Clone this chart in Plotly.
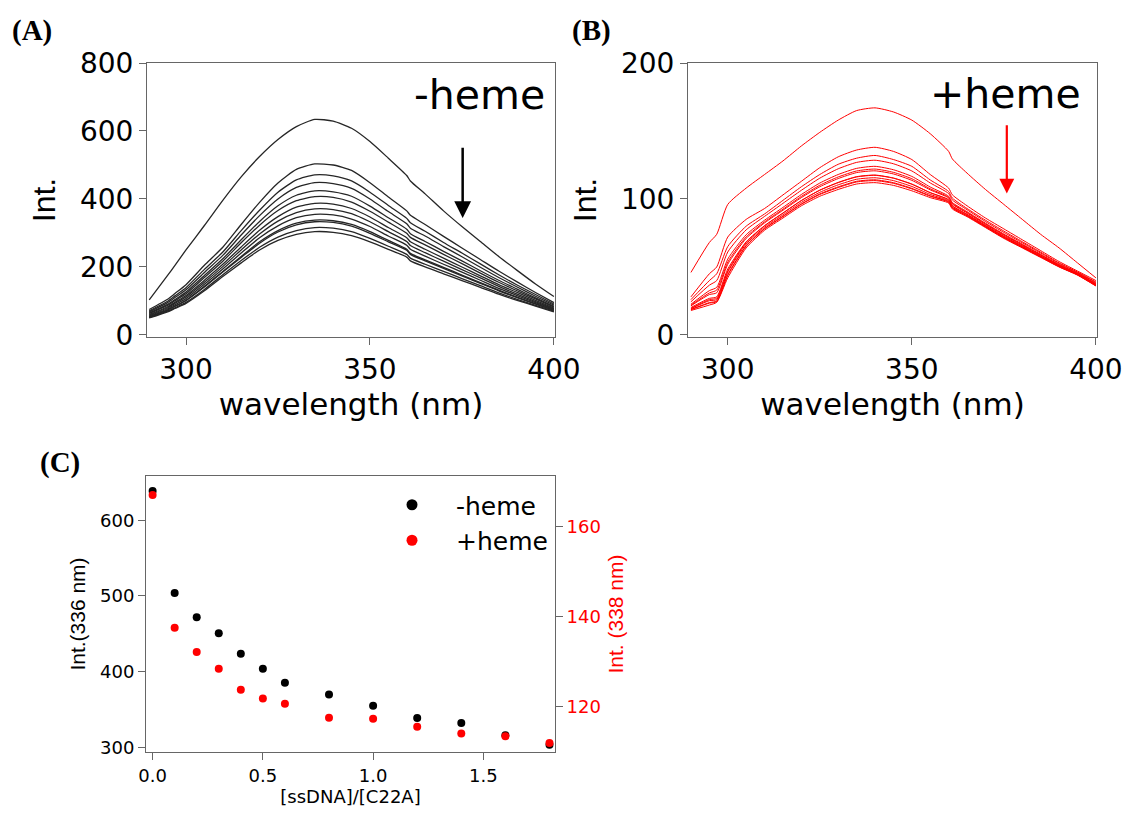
import plotly.graph_objects as go

# ---------------------------------------------------------------------------
# Data
# ---------------------------------------------------------------------------
wavelength = [290, 295, 297, 300, 305, 310, 315, 320, 325, 330, 335, 340, 345,
              350, 355, 360, 361, 365, 370, 375, 380, 385, 390, 395, 400]

# [ssDNA]/[C22A] titration points
ratio = [0.0, 0.1, 0.2, 0.3, 0.4, 0.5, 0.6, 0.8, 1.0, 1.2, 1.4, 1.6, 1.8]

# (A) emission spectra without heme, one list per titration point
no_heme_000 = [103, 175, 205, 250, 322, 396, 465, 525, 575, 613, 634, 629, 608, 569, 520, 469, 453, 415, 365, 319, 275, 231, 190, 150, 113]
no_heme_010 = [75, 105, 122, 148, 205, 258, 325, 390, 447, 487, 503, 500, 484, 448, 406, 365, 352, 325, 290, 256, 222, 188, 156, 125, 95]
no_heme_020 = [71, 99, 115, 139, 193, 244, 307, 367, 420, 456, 471, 468, 453, 420, 381, 343, 330, 305, 272, 241, 209, 177, 147, 119, 91]
no_heme_030 = [68, 95, 110, 133, 184, 234, 294, 351, 400, 434, 448, 445, 431, 400, 363, 327, 314, 291, 260, 230, 199, 169, 141, 114, 88]
no_heme_040 = [65, 90, 104, 126, 175, 224, 280, 334, 380, 411, 424, 421, 408, 379, 345, 311, 298, 275, 246, 218, 189, 161, 135, 109, 84]
no_heme_050 = [63, 87, 101, 121, 169, 217, 271, 323, 366, 395, 407, 405, 391, 364, 332, 299, 287, 265, 237, 210, 182, 155, 130, 106, 82]
no_heme_060 = [60, 83, 96, 116, 161, 208, 259, 308, 348, 376, 387, 385, 372, 347, 316, 286, 274, 252, 226, 200, 174, 148, 125, 102, 79]
no_heme_080 = [58, 80, 93, 112, 155, 201, 250, 297, 335, 360, 371, 369, 357, 333, 304, 275, 263, 242, 217, 192, 168, 143, 120, 98, 77]
no_heme_100 = [56, 77, 89, 107, 149, 194, 241, 286, 321, 345, 355, 353, 341, 319, 291, 264, 252, 232, 208, 185, 161, 137, 116, 95, 75]
no_heme_120 = [54, 74, 85, 102, 143, 187, 231, 274, 307, 329, 338, 336, 325, 304, 278, 252, 240, 221, 199, 176, 154, 132, 111, 92, 73]
no_heme_140 = [53, 73, 84, 101, 141, 185, 228, 270, 303, 324, 333, 331, 320, 299, 274, 249, 237, 218, 196, 174, 152, 130, 110, 91, 72]
no_heme_160 = [51, 70, 80, 96, 134, 177, 219, 258, 288, 307, 316, 314, 304, 284, 261, 237, 226, 208, 187, 166, 145, 124, 105, 87, 70]
no_heme_180 = [50, 68, 78, 93, 130, 172, 212, 250, 278, 296, 304, 302, 292, 274, 252, 229, 218, 200, 180, 160, 140, 120, 102, 85, 68]

# (B) emission spectra with heme, one list per titration point
heme_000 = [46, 68, 74, 96, 108, 118, 128, 139, 149, 158, 165, 167, 164, 158, 148, 135, 129.5, 119, 107, 96, 85, 74, 64, 53, 42]
heme_010 = [28, 45, 50, 72, 85, 93, 103, 113, 123, 131, 136, 138, 135, 129, 118, 108, 103.1, 95, 86, 78, 70, 62, 54, 47, 40]
heme_020 = [26, 40, 45, 65, 80, 89, 99, 109, 118, 125.5, 130, 132, 129, 124, 114, 105.5, 100.7, 93, 84.4, 76.4, 68.6, 60.9, 53, 46.3, 39]
heme_030 = [24.4, 36.6, 40, 61, 77.3, 87.2, 96.8, 106.4, 115.3, 122.2, 126.9, 128.5, 125.9, 120.6, 111.8, 104, 99.3, 92.1, 83.4, 75.4, 67.8, 60.2, 52.5, 45.9, 38.5]
heme_040 = [22.6, 32.6, 35, 55.8, 73.7, 84.4, 93.8, 103.3, 111.7, 118, 122.5, 124, 121.5, 116.6, 108.8, 102, 97.4, 90.7, 82.2, 74.2, 66.8, 59.3, 51.8, 45.4, 37.8]
heme_050 = [21.9, 30.9, 33, 53.6, 72.1, 83.2, 92.5, 101.9, 110.1, 116.2, 120.6, 122, 119.6, 114.9, 107.5, 101.2, 96.7, 90.1, 81.7, 73.7, 66.3, 58.9, 51.5, 45.2, 37.5]
heme_060 = [21.4, 29.7, 31, 52, 71, 82.4, 91.7, 101, 109, 115, 119.4, 120.7, 118.4, 113.7, 106.7, 100.7, 96.2, 89.7, 81.3, 73.3, 66, 58.7, 51.3, 45, 37.3]
heme_080 = [20.2, 26.9, 28, 48.5, 68.5, 80.4, 89.7, 98.9, 106.5, 112.2, 116.4, 117.6, 115.4, 111, 104.7, 99.4, 95, 88.7, 80.5, 72.5, 65.3, 58.1, 50.9, 44.6, 36.9]
heme_100 = [19.5, 26, 27, 47, 68, 80.2, 89.6, 98.8, 106.4, 112, 116.2, 117.4, 115.3, 110.8, 104.6, 99.3, 94.9, 88.7, 80.5, 72.5, 65.3, 58, 50.8, 44.6, 36.8]
heme_120 = [19.4, 25.2, 26, 46.2, 66.9, 79.2, 88.4, 97.5, 104.9, 110.4, 114.5, 115.6, 113.5, 109.2, 103.4, 98.5, 94.1, 88.1, 80, 72, 64.8, 57.7, 50.6, 44.4, 36.6]
heme_140 = [18.8, 23.8, 25, 44.4, 65.7, 78.3, 87.4, 96.4, 103.7, 108.9, 113, 114.1, 112, 107.8, 102.4, 97.9, 93.5, 87.6, 79.6, 71.6, 64.5, 57.4, 50.3, 44.2, 36.3]
heme_160 = [18.6, 23.4, 24.5, 43.8, 65.3, 78, 87, 96.1, 103.3, 108.4, 112.5, 113.5, 111.5, 107.4, 102, 97.7, 93.4, 87.5, 79.4, 71.4, 64.4, 57.3, 50.2, 44.2, 36.2]
heme_180 = [18, 22, 24, 42, 64, 77, 86, 95, 102, 107, 111, 112, 110, 106, 101, 97, 92.7, 87, 79, 71, 64, 57, 50, 44, 36]

# (C) intensity at the emission maximum versus ratio
int_336_no_heme = [638.6, 503.8, 471.8, 450.7, 423.5, 403.7, 385.2, 369.9, 355.0, 338.7, 332.1, 316.0, 303.5]
int_338_heme = [167.1, 137.6, 132.2, 128.5, 123.8, 121.9, 120.7, 117.6, 117.4, 115.6, 114.1, 113.5, 112.0]

no_heme_spectra = [no_heme_000, no_heme_010, no_heme_020, no_heme_030, no_heme_040,
                   no_heme_050, no_heme_060, no_heme_080, no_heme_100, no_heme_120,
                   no_heme_140, no_heme_160, no_heme_180]
heme_spectra = [heme_000, heme_010, heme_020, heme_030, heme_040, heme_050, heme_060,
                heme_080, heme_100, heme_120, heme_140, heme_160, heme_180]

# ---------------------------------------------------------------------------
# Figure
# ---------------------------------------------------------------------------
W, H = 1129, 814
WIDE = "DejaVu Sans, Verdana, sans-serif"        # horizontal labels
SANS = "Liberation Sans, Arial, sans-serif"      # rotated axis titles
SERIF = "Liberation Serif, Times New Roman, serif"
RED = "#ff0000"
AXIS_GREY = "#666666"


def fx(px):
    return px / W


def fy(px):
    return 1 - px / H


fig = go.Figure()

for spec in no_heme_spectra:
    fig.add_trace(go.Scatter(x=wavelength, y=spec, mode="lines",
                             line=dict(color="#262626", width=1.3, shape="spline", smoothing=0.6),
                             xaxis="x", yaxis="y", showlegend=False, hoverinfo="skip"))

for spec in heme_spectra:
    fig.add_trace(go.Scatter(x=wavelength, y=spec, mode="lines",
                             line=dict(color=RED, width=1, shape="spline", smoothing=0.6),
                             xaxis="x2", yaxis="y2", showlegend=False, hoverinfo="skip"))

fig.add_trace(go.Scatter(x=ratio, y=int_336_no_heme, mode="markers",
                         marker=dict(color="black", size=8),
                         xaxis="x3", yaxis="y3", showlegend=False))
fig.add_trace(go.Scatter(x=ratio, y=int_338_heme, mode="markers",
                         marker=dict(color=RED, size=8),
                         xaxis="x3", yaxis="y4", showlegend=False))

# legend entries with larger symbols
fig.add_trace(go.Scatter(x=[None], y=[None], mode="markers", name="-heme",
                         marker=dict(color="black", size=11), xaxis="x3", yaxis="y3"))
fig.add_trace(go.Scatter(x=[None], y=[None], mode="markers", name="+heme",
                         marker=dict(color=RED, size=11), xaxis="x3", yaxis="y3"))

base_axis = dict(showline=True, linecolor=AXIS_GREY, linewidth=1, mirror=True,
                 ticks="outside", ticklen=7, tickcolor=AXIS_GREY, tickwidth=1,
                 showgrid=False, zeroline=False, automargin=False)

big_tick = dict(family=WIDE, size=28, color="black")
big_xtitle = dict(family=WIDE, size=31, color="black")
big_ytitle = dict(family=SANS, size=32, color="black")
small_tick = dict(family=WIDE, size=18, color="black")
small_xtitle = dict(family=WIDE, size=18, color="black")
small_ytitle = dict(family=SANS, size=21, color="black")

# panel geometry in pixels
A_X = (147, 555)
B_X = (688, 1097)
AB_Y = (63, 337)
C_X = (146, 555)
C_Y = (476, 752)

fig.update_layout(
    width=W, height=H,
    margin=dict(l=0, r=0, t=0, b=0),
    paper_bgcolor="white", plot_bgcolor="white",
    font=dict(family=WIDE, color="black"),
    xaxis=dict(base_axis, domain=[fx(A_X[0]), fx(A_X[1])], anchor="y",
               range=[289.4, 400.3], tickvals=[300, 350, 400], tickfont=big_tick,
               title=dict(text="wavelength (nm)", font=big_xtitle, standoff=6)),
    yaxis=dict(base_axis, domain=[fy(AB_Y[1]), fy(AB_Y[0])], anchor="x",
               range=[-6, 800], dtick=200, tickfont=big_tick,
               title=dict(text="Int.", font=big_ytitle, standoff=14)),
    xaxis2=dict(base_axis, domain=[fx(B_X[0]), fx(B_X[1])], anchor="y2",
                range=[289.2, 400.3], tickvals=[300, 350, 400], tickfont=big_tick,
                title=dict(text="wavelength (nm)", font=big_xtitle, standoff=6)),
    yaxis2=dict(base_axis, domain=[fy(AB_Y[1]), fy(AB_Y[0])], anchor="x2",
                range=[-1.5, 200], dtick=100, tickfont=big_tick,
                title=dict(text="Int.", font=big_ytitle, standoff=14)),
    xaxis3=dict(base_axis, domain=[fx(C_X[0]), fx(C_X[1])], anchor="y3",
                range=[-0.03, 1.825], dtick=0.5, tickformat=".1f", tickfont=small_tick,
                title=dict(text="[ssDNA]/[C22A]", font=small_xtitle, standoff=4)),
    yaxis3=dict(base_axis, domain=[fy(C_Y[1]), fy(C_Y[0])], anchor="x3",
                range=[293.9, 658.4], dtick=100, tickfont=small_tick, mirror=True,
                title=dict(text="Int.(336 nm)", font=small_ytitle, standoff=8)),
    yaxis4=dict(base_axis, overlaying="y3", side="right", anchor="x3", mirror=False,
                range=[110.0, 171.3], dtick=20,
                tickfont=dict(family=WIDE, size=18, color=RED),
                title=dict(text="Int. (338 nm)", font=dict(family=SANS, size=21, color=RED),
                           standoff=8)),
    legend=dict(x=fx(368), y=fy(482), xanchor="left", yanchor="top",
                bgcolor="rgba(0,0,0,0)", itemwidth=78,
                font=dict(family=WIDE, size=25, color="black"),
                tracegroupgap=0),
    showlegend=True,
)

annotations = [
    dict(text="<b>(A)</b>", xref="paper", yref="paper", x=fx(10), y=fy(31),
         xanchor="left", yanchor="middle", showarrow=False,
         font=dict(family=SERIF, size=29, color="black")),
    dict(text="<b>(B)</b>", xref="paper", yref="paper", x=fx(570), y=fy(31),
         xanchor="left", yanchor="middle", showarrow=False,
         font=dict(family=SERIF, size=29, color="black")),
    dict(text="<b>(C)</b>", xref="paper", yref="paper", x=fx(38), y=fy(462),
         xanchor="left", yanchor="middle", showarrow=False,
         font=dict(family=SERIF, size=29, color="black")),
    dict(text="-heme", xref="x", yref="y", x=398.0, y=707,
         xanchor="right", yanchor="middle", showarrow=False,
         font=dict(family=WIDE, size=41, color="black")),
    dict(text="+heme", xref="x2", yref="y2", x=396.5, y=177.3,
         xanchor="right", yanchor="middle", showarrow=False,
         font=dict(family=WIDE, size=41, color="black")),
    # downward arrows marking the quenching direction
    dict(text="", xref="x", yref="y", x=375.2, y=344, axref="x", ayref="y",
         ax=375.2, ay=555, showarrow=True, arrowhead=2, arrowsize=1.35,
         arrowwidth=2.5, arrowcolor="black"),
    dict(text="", xref="x2", yref="y2", x=375.8, y=104, axref="x2", ayref="y2",
         ax=375.8, ay=155.4, showarrow=True, arrowhead=2, arrowsize=1.35,
         arrowwidth=2.2, arrowcolor=RED),
]
fig.update_layout(annotations=annotations)

fig.write_html("out.html")
